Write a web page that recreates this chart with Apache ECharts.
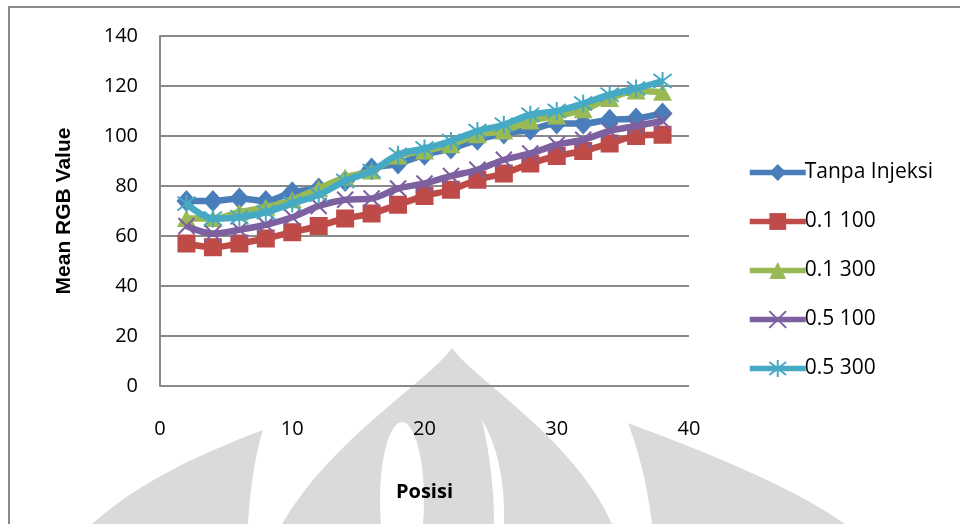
<!DOCTYPE html>
<html>
<head>
<meta charset="utf-8">
<script src="https://cdn.jsdelivr.net/npm/echarts@6/dist/echarts.min.js"></script>
<style>
html,body{margin:0;padding:0;background:#fff;}
#chart{width:960px;height:524px;}
</style>
</head>
<body>
<div id="chart"></div>
<script>
var posisi = [2, 4, 6, 8, 10, 12, 14, 16, 18, 20, 22, 24, 26, 28, 30, 32, 34, 36, 38];
var seriesNames = ['Tanpa Injeksi', '0.1 100', '0.1 300', '0.5 100', '0.5 300'];
var tanpaInjeksi = [74, 74, 75, 74, 77.5, 79, 82, 87, 89, 92.5, 95, 98.5, 101, 102.5, 105, 105, 106.5, 107, 109];
var s01_100 = [57, 55.5, 57, 59, 61.5, 64, 67, 69, 72.5, 76, 78.5, 82.5, 85, 89, 92, 94, 97, 100, 100.5];
var s01_300 = [67, 67, 69.5, 71.5, 74.5, 79, 83.5, 86, 92, 94, 96.5, 100.5, 102, 106, 108, 110.5, 115, 118, 117.5];
var s05_100 = [64, 61, 62.5, 64.5, 67.5, 72, 74.5, 75, 79, 81, 84, 86.5, 90.5, 93, 96.5, 98.5, 102, 104, 106];
var s05_300 = [73, 67, 67.5, 69.5, 73, 76.5, 82, 86, 92.5, 95, 98, 102, 104.5, 108.5, 110, 113, 116.5, 119, 122];
var xTicks = [0, 10, 20, 30, 40];
var yTicks = [0, 20, 40, 60, 80, 100, 120, 140];

var colors = ['#4A7EBB', '#BE4B48', '#98B954', '#7D60A0', '#46AAC5'];
var allValues = [tanpaInjeksi, s01_100, s01_300, s05_100, s05_300];
var symbols = [
  'diamond', 'rect', 'triangle',
  'path://M0,0L10,10M10,0L0,10',
  'path://M0,0L10,10M10,0L0,10M5,-1.5L5,11.5'
];
var symbolSizes = [[20,22], 18, [19,17], 16, 18];

function pairs(vals){ return posisi.map(function(x,i){ return [x, vals[i]]; }); }

var series = seriesNames.map(function(name, k){
  var stroked = k >= 3;
  return {
    name: name,
    type: 'line',
    data: pairs(allValues[k]),
    smooth: 0.35,
    symbol: symbols[k],
    symbolSize: symbolSizes[k],
    showAllSymbol: true,
    lineStyle: {color: colors[k], width: 6.5},
    itemStyle: stroked ? {color: colors[k], borderColor: colors[k], borderWidth: 2} : {color: colors[k], borderWidth: 0},
    z: 2 + k
  };
});

// decorative watermark outline helper (cubic segments -> polygon points)
function cubicPts(p0, p1, p2, p3, n){
  var out = [];
  for (var i = 0; i <= n; i++){
    var t = i / n, u = 1 - t;
    out.push([
      u*u*u*p0[0] + 3*u*u*t*p1[0] + 3*u*t*t*p2[0] + t*t*t*p3[0],
      u*u*u*p0[1] + 3*u*u*t*p1[1] + 3*u*t*t*p2[1] + t*t*t*p3[1]
    ]);
  }
  return out;
}
function shape2(a, b){ return cubicPts.apply(null, a.concat([16])).concat(cubicPts.apply(null, b.concat([16]))); }

var wm = '#dadada';
var wmCenter = shape2([[452,348],[430,380],[330,440],[282,524]], [[612,524],[575,440],[475,380],[452,348]]);
var wmSlit = shape2([[482,420],[500,450],[505,490],[504,524]], [[494,524],[494,490],[490,455],[482,420]]);
var wmLeft = shape2([[263,430],[210,450],[140,480],[92,524]], [[248,524],[250,490],[255,455],[263,430]]);
var wmRight = shape2([[628,423],[700,450],[790,485],[845,524]], [[652,524],[648,490],[640,455],[628,423]]);

var chart = echarts.init(document.getElementById('chart'), null, {renderer: 'canvas'});
chart.setOption({
  animation: false,
  backgroundColor: '#fff',
  color: colors,
  graphic: [
    {type: 'polygon', silent: true, z: -10, shape: {points: wmCenter}, style: {fill: wm}},
    {type: 'ellipse', silent: true, z: -9, shape: {cx: 402, cy: 500, rx: 22, ry: 78}, style: {fill: '#fff'}},
    {type: 'polygon', silent: true, z: -9, shape: {points: wmSlit}, style: {fill: '#fff'}},
    {type: 'polygon', silent: true, z: -10, shape: {points: wmLeft}, style: {fill: wm}},
    {type: 'polygon', silent: true, z: -10, shape: {points: wmRight}, style: {fill: wm}},
    {type: 'rect', shape: {x: 9, y: 7, width: 1000, height: 600}, style: {fill: 'none', stroke: '#8a8a8a', lineWidth: 2}, z: 0, silent: true}
  ],
  grid: {left: 160, right: 271, top: 36, bottom: 138},
  legend: {
    orient: 'vertical',
    left: 742,
    top: 157,
    itemWidth: 56,
    itemHeight: 21,
    itemGap: 28,
    data: seriesNames,
    lineStyle: {width: 5.5},
    textStyle: {fontFamily: 'Open Sans', fontSize: 21, lineHeight: 21, color: '#000', padding: [0,0,0,-6]}
  },
  xAxis: {
    type: 'value',
    min: 0, max: 40, interval: 10,
    name: 'Posisi',
    nameLocation: 'middle',
    nameGap: 96,
    nameTextStyle: {fontFamily: 'Open Sans', fontWeight: 'bold', fontSize: 20, color: '#000'},
    axisLine: {show: false},
    axisTick: {show: false},
    splitLine: {show: false},
    axisLabel: {margin: 33, fontFamily: 'Open Sans', fontSize: 20, color: '#000',
      formatter: function(v){ return xTicks.indexOf(v) >= 0 ? String(v) : ''; }}
  },
  yAxis: {
    type: 'value',
    min: 0, max: 140, interval: 20,
    name: 'Mean RGB Value',
    nameLocation: 'middle',
    nameGap: 85,
    nameRotate: 90,
    nameTextStyle: {fontFamily: 'Liberation Sans', fontWeight: 'bold', fontSize: 21, color: '#000'},
    axisLine: {show: true, lineStyle: {color: '#8a8a8a', width: 2}},
    axisTick: {show: false},
    splitLine: {show: true, lineStyle: {color: '#8a8a8a', width: 2}},
    axisLabel: {margin: 22, fontFamily: 'Open Sans', fontSize: 20, color: '#000',
      formatter: function(v){ return yTicks.indexOf(v) >= 0 ? String(v) : ''; }}
  },
  series: series
});
</script>
</body>
</html>
